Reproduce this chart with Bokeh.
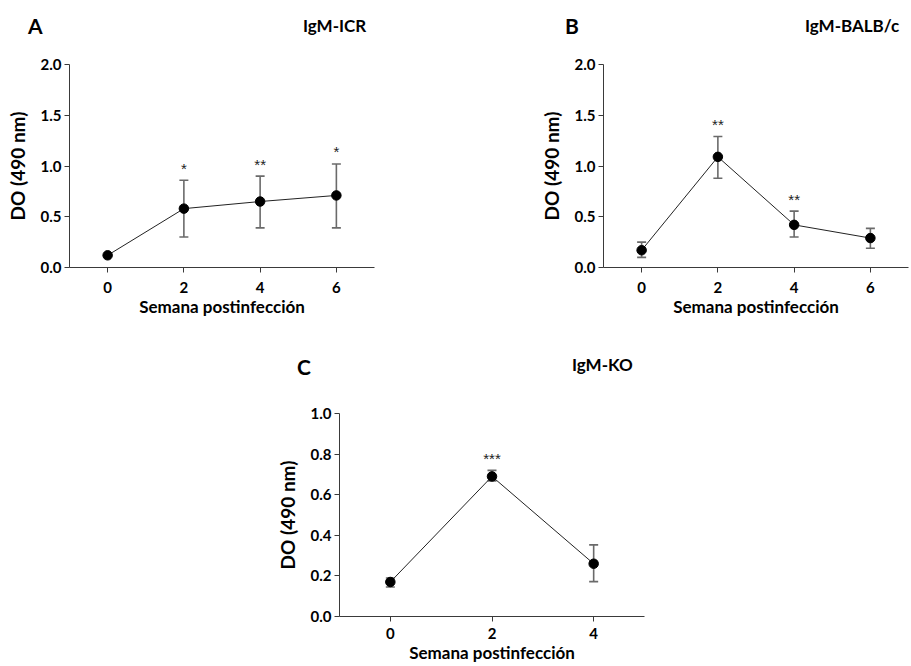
from bokeh.plotting import figure
from bokeh.layouts import column, row
from bokeh.models import (ColumnDataSource, Range1d, FixedTicker,
                          PrintfTickFormatter, Div, Spacer)
from bokeh.core.properties import value
from bokeh.embed import file_html
from bokeh.resources import INLINE

# ---- data ----
weeks_a = [0, 2, 4, 6]
mean_a = [0.12, 0.58, 0.65, 0.71]
lo_a = [0.12, 0.30, 0.39, 0.39]
hi_a = [0.12, 0.86, 0.90, 1.02]
sig_a = ["", "*", "**", "*"]

weeks_b = [0, 2, 4, 6]
mean_b = [0.17, 1.09, 0.42, 0.29]
lo_b = [0.10, 0.88, 0.30, 0.19]
hi_b = [0.25, 1.29, 0.555, 0.385]
sig_b = ["", "**", "**", ""]

weeks_c = [0, 2, 4]
mean_c = [0.17, 0.69, 0.26]
lo_c = [0.145, 0.668, 0.172]
hi_c = [0.19, 0.72, 0.353]
sig_c = ["", "***", ""]

yticks_ab = [0.0, 0.5, 1.0, 1.5, 2.0]
yticks_c = [0.0, 0.2, 0.4, 0.6, 0.8, 1.0]

x_label = "Semana postinfección"
y_label = "DO (490 nm)"

FONT = "Lato"
EB = "#6a6a6a"
AX = "#3a3a3a"


def panel(weeks, mean, lo, hi, sig, x_end, y_end, yticks,
          fw, fh, bl, bt, br, bb, lab_standoff):
    p = figure(frame_width=fw, frame_height=fh,
               x_range=Range1d(-1, x_end), y_range=Range1d(0, y_end),
               output_backend="svg", toolbar_location=None,
               min_border_left=bl, min_border_top=bt,
               min_border_right=br, min_border_bottom=bb)
    p.outline_line_color = None
    p.grid.visible = False
    src = ColumnDataSource(dict(x=weeks, m=mean, lo=lo, hi=hi, sig=sig))
    p.segment(x0="x", y0="lo", x1="x", y1="hi", source=src,
              line_color=EB, line_width=1.6)
    p.scatter("x", "lo", marker="dash", size=9, line_color=EB,
              line_width=1.6, source=src)
    p.scatter("x", "hi", marker="dash", size=9, line_color=EB,
              line_width=1.6, source=src)
    p.line("x", "m", source=src, line_color="#222222", line_width=1)
    p.scatter("x", "m", marker="circle", size=9.5, fill_color="black",
              line_color="black", source=src)
    p.text("x", "hi", text="sig", source=src, text_align="center",
           text_baseline="middle", y_offset=-12, text_font_size="15px",
           text_font=value("Liberation Sans"), text_color="#222222")

    for ax in (p.xaxis[0], p.yaxis[0]):
        ax.axis_line_color = AX
        ax.major_tick_line_color = AX
        ax.major_tick_in = 0
        ax.major_tick_out = 5
        ax.minor_tick_line_color = None
        ax.major_label_text_font = FONT
        ax.major_label_text_font_style = "bold"
        ax.major_label_text_font_size = "15px"
        ax.major_label_text_color = "black"
        ax.axis_label_text_font = FONT
        ax.axis_label_text_font_style = "bold"
        ax.axis_label_text_color = "black"
    p.xaxis.axis_label_text_font_size = "17px"
    p.yaxis.axis_label_text_font_size = "19px"
    p.xaxis.ticker = FixedTicker(ticks=weeks)
    p.yaxis.ticker = FixedTicker(ticks=yticks)
    p.yaxis.formatter = PrintfTickFormatter(format="%.1f")
    p.xaxis.axis_label = x_label
    p.yaxis.axis_label = y_label
    p.yaxis.major_label_standoff = 3
    p.yaxis.axis_label_standoff = 9
    p.xaxis.major_label_standoff = lab_standoff
    p.xaxis.axis_label_standoff = 0
    return p


def heading(text, size, width, top, height):
    d = Div(text=text, width=width, height=height - top, margin=0,
            styles={"font-family": FONT, "font-weight": "bold",
                    "font-size": f"{size}px", "line-height": "1",
                    "color": "black", "white-space": "nowrap"})
    return column(Spacer(width=width, height=top), d, spacing=0)


pA = panel(weeks_a, mean_a, lo_a, hi_a, sig_a, 7, 2.0, yticks_ab,
           305, 203, 69, 19, 96, 58, 9)
pB = panel(weeks_b, mean_b, lo_b, hi_b, sig_b, 7, 2.0, yticks_ab,
           305, 203, 133, 19, 3, 58, 9)
pC = panel(weeks_c, mean_c, lo_c, hi_c, sig_c, 5, 1.0, yticks_c,
           305, 203, 339, 23, 20, 50, 6)

head1 = row(Spacer(width=28, height=45),
            heading("A", 21, 275, 15, 45),
            heading("IgM-ICR", 17, 262, 17, 45),
            heading("B", 21, 240, 15, 45),
            heading("IgM-BALB/c", 17, 106, 17, 45), spacing=0)
head2 = row(Spacer(width=297, height=65),
            heading("C", 21, 275, 31, 65),
            heading("IgM-KO", 17, 100, 31, 65), spacing=0)

layout = column(head1, row(pA, pB, spacing=0), head2, pC, spacing=0)
open("out.html", "w").write(file_html(layout, INLINE))
